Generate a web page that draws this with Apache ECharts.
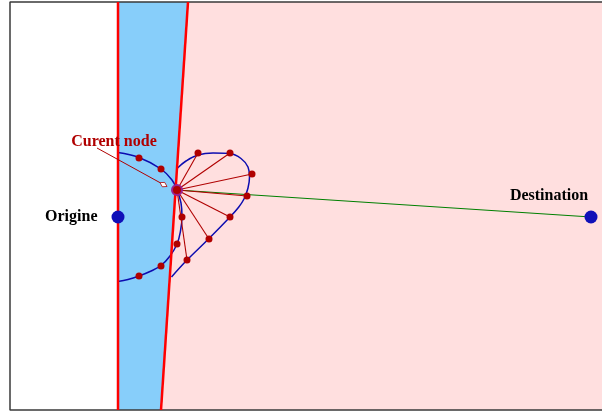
<!DOCTYPE html>
<html>
<head>
<meta charset="utf-8">
<script src="https://cdn.jsdelivr.net/npm/echarts@6/dist/echarts.min.js"></script>
<style>html,body{margin:0;padding:0;background:#fff}#c{width:602px;height:412px}</style>
</head>
<body>
<div id="c"></div>
<script>
// ---- data (diagram coordinates, y grows downward) ----
const frameLine = [[606, 2], [10, 2], [10, 410], [606, 410]];
const blueRegion = [[118, 2], [188, 2], [161, 410], [118, 410]];
const pinkRegion = [[188, 2], [606, 2], [606, 410], [161, 410]];
const leftBoundary = [[118, 2], [118, 410]];
const rightBoundary = [[188, 2], [161, 410]];
const leftCurve = [[118, 152.5], [139, 157.5], [161, 169], [172, 180], [177, 190], [181, 203], [182, 217], [180.5, 231], [177, 244], [170, 256], [161, 265.5], [150, 271.5], [139, 276], [128, 279.5], [118, 281.5]];
const rightCurve = [[177, 168.5], [186, 161], [198, 155], [213, 153], [230, 153.5], [241, 158.5], [248, 167], [249.5, 177], [248, 188], [244, 199], [238, 208], [230, 217], [209, 238.5], [187, 260], [171.5, 277]];
const currentNode = [177, 190];
const origin = [118, 217];
const destination = [591, 217];
const rayDots = [[198, 153], [230, 153], [252, 174], [247, 196], [230, 217], [209, 239], [187, 260]];
const curveDots = [[139, 158], [161, 169], [182, 217], [177, 244], [161, 266], [139, 276]];
const leaderStart = [97, 148];
const leaderEnd = [167, 186.5];
const nodeLabelPos = [114, 142];
const labels = { origin: 'Origine', destination: 'Destination', node: 'Curent node' };

const SERIF = '"Liberation Serif","DejaVu Serif",serif';
const DARKRED = '#b00000';

function polygonSeries(points, fill) {
  return {
    type: 'custom', silent: true, z: 1, clip: false,
    data: [[points[0][0], points[0][1]]],
    renderItem: (params, api) => ({
      type: 'polygon',
      shape: { points: points.map(p => api.coord(p)) },
      style: { fill: fill, stroke: null }
    })
  };
}
function lineSeries(points, color, width, z, smooth) {
  return {
    type: 'line', data: points, showSymbol: false, symbol: 'none', silent: true,
    smooth: smooth || false, z: z, clip: false,
    lineStyle: { color: color, width: width, opacity: 1 }
  };
}

const rays = rayDots.map(p => [currentNode[0], currentNode[1], p[0], p[1]]);

const option = {
  animation: false,
  grid: { left: 0, right: 0, top: 0, bottom: 0 },
  xAxis: { type: 'value', min: 0, max: 602, show: false },
  yAxis: { type: 'value', min: 0, max: 412, inverse: true, show: false },
  series: [
    polygonSeries(pinkRegion, '#ffdfdf'),
    polygonSeries(blueRegion, '#87cefa'),
    lineSeries(frameLine, '#3a3a3a', 1.5, 2),
    lineSeries(leftCurve, '#0c0cb0', 1.5, 3, 0.4),
    lineSeries(rightCurve, '#0c0cb0', 1.5, 3, 0.4),
    lineSeries(leftBoundary, '#ff0000', 2.5, 4),
    lineSeries(rightBoundary, '#ff0000', 2.5, 4),
    lineSeries([currentNode, destination], '#008000', 1, 5),
    {
      type: 'custom', silent: true, z: 6, clip: false,
      data: rays,
      renderItem: (params, api) => {
        const a = api.coord([api.value(0), api.value(1)]);
        const b = api.coord([api.value(2), api.value(3)]);
        return { type: 'line', shape: { x1: a[0], y1: a[1], x2: b[0], y2: b[1] }, style: { stroke: DARKRED, lineWidth: 1.1 } };
      }
    },
    {
      type: 'custom', silent: true, z: 7, clip: false,
      data: [[leaderStart[0], leaderStart[1], leaderEnd[0], leaderEnd[1]]],
      renderItem: (params, api) => {
        const a = api.coord([api.value(0), api.value(1)]);
        const b = api.coord([api.value(2), api.value(3)]);
        const dx = b[0] - a[0], dy = b[1] - a[1];
        const L = Math.sqrt(dx * dx + dy * dy), ux = dx / L, uy = dy / L;
        const px = -uy, py = ux;
        const len = 8, w = 2.5;
        const tip = b;
        const back = [b[0] - ux * len, b[1] - uy * len];
        const mid = [b[0] - ux * len * 0.5, b[1] - uy * len * 0.5];
        return {
          type: 'group', children: [
            { type: 'line', shape: { x1: a[0], y1: a[1], x2: back[0], y2: back[1] }, style: { stroke: DARKRED, lineWidth: 1 } },
            { type: 'polygon', shape: { points: [tip, [mid[0] + px * w, mid[1] + py * w], back, [mid[0] - px * w, mid[1] - py * w]] }, style: { fill: '#ffffff', stroke: DARKRED, lineWidth: 0.8 } }
          ]
        };
      }
    },
    {
      type: 'custom', silent: true, z: 10, clip: false,
      data: [nodeLabelPos],
      renderItem: (params, api) => {
        const p = api.coord([api.value(0), api.value(1)]);
        return {
          type: 'text', x: p[0], y: p[1],
          style: { text: labels.node, fill: DARKRED, font: 'bold 16px ' + SERIF, align: 'center', verticalAlign: 'middle' }
        };
      }
    },
    {
      type: 'scatter', silent: true, z: 8, symbolSize: 7,
      itemStyle: { color: DARKRED, opacity: 1 },
      data: rayDots.concat(curveDots)
    },
    {
      type: 'scatter', silent: true, z: 9, symbolSize: 10,
      itemStyle: { color: DARKRED, borderColor: '#9a2090', borderWidth: 2, opacity: 1 },
      data: [currentNode]
    },
    {
      type: 'scatter', silent: true, z: 9, symbolSize: 13,
      itemStyle: { color: '#1010b8', opacity: 1 },
      data: [
        { value: origin, label: { show: true, position: 'left', distance: 14, formatter: labels.origin } },
        { value: destination, label: { show: true, position: 'top', distance: 5, offset: [-42, -2], formatter: labels.destination } }
      ],
      label: { color: '#000', fontFamily: SERIF, fontWeight: 'bold', fontSize: 16, opacity: 1 }
    }
  ]
};
const chart = echarts.init(document.getElementById('c'), null, { renderer: 'canvas' });
chart.setOption(option);
</script>
</body>
</html>
